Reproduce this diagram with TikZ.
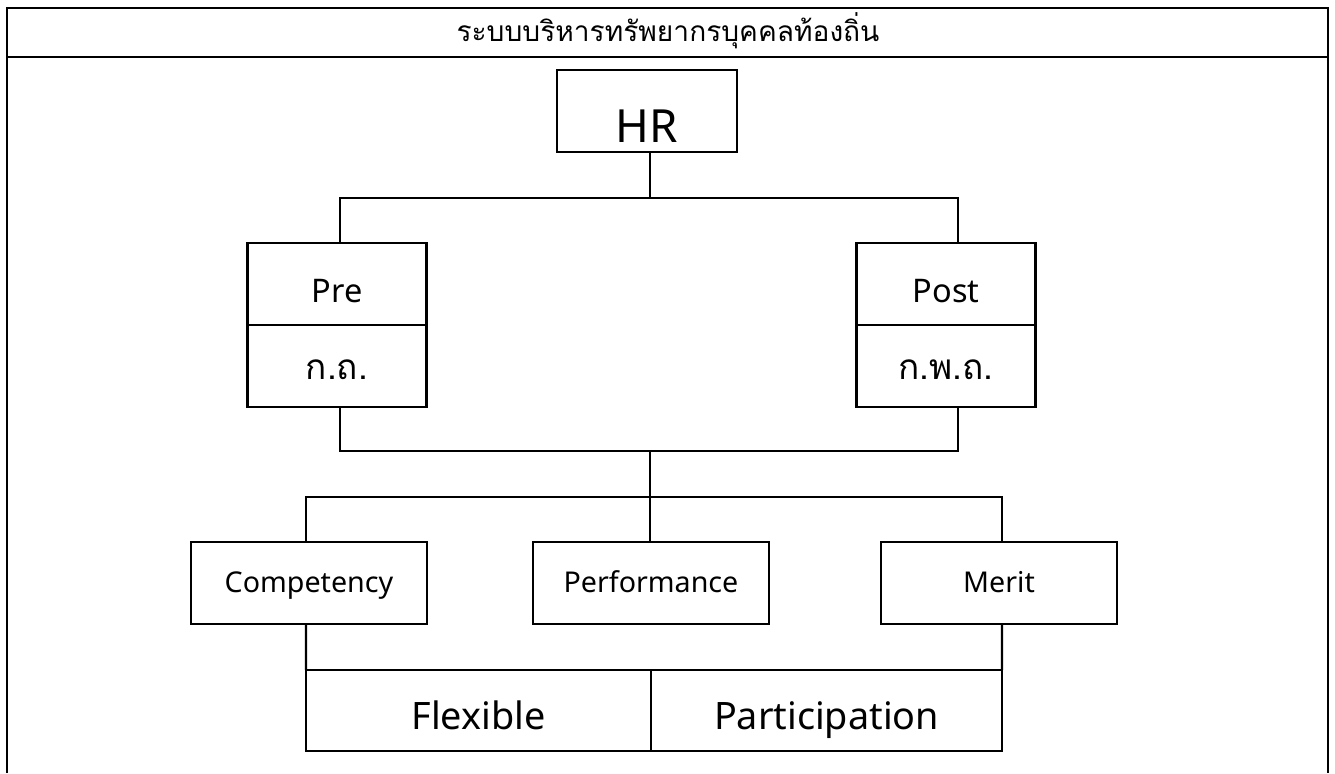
\documentclass[tikz,border=0pt]{standalone}
\usepackage{fontspec}
\setmainfont{Noto Sans}
\newfontfamily\thaifont[Script=Thai]{Loma}
\usepackage{tikz}
\tikzset{
boxnodev1/.style={rectangle, draw=black!100,fill=none,very thick, inner sep=0pt, outer sep=0pt, minimum width= 3.6cm, minimum height = 1.64cm, text height=35.3pt, text depth=0pt},
boxnodev2/.style={rectangle, draw=black!100,fill=none,very thick, inner sep=0pt, outer sep=0pt, minimum width= 3.58cm, minimum height = 1.64cm, text height=20.6pt, text depth=0pt, font=\fontsize{18.5}{20}\selectfont},
boxnodev3/.style={rectangle, draw=black!100,fill=none,very thick, inner sep=0pt, outer sep=0pt, minimum width= 4.72cm, minimum height = 1.64cm, text height=10.9pt, text depth=0pt, font=\fontsize{16.3}{18}\selectfont},
boxnodev4/.style={rectangle, draw=black!100,fill=none,very thick, inner sep=0pt, outer sep=0pt, minimum height = 1.62cm, text height=21.7pt, text depth=0pt, font=\fontsize{21.5}{24}\selectfont},
}

\begin{document}
\begin{tikzpicture}
        \useasboundingbox (0,0) rectangle (26.7,15.46);
        % frame and title
        \draw[very thick,black] (0.14,0)--(0.14,15.30)--(26.56,15.30)--(26.56,0);
        \draw[very thick,black] (0.14,14.32)--(26.56,14.32);
        \node at (13.36,14.84) (title) {\thaifont\fontsize{16}{18}\selectfont ระบบบริหารทรัพยากรบุคคลท้องถิ่น};

        \node[boxnodev1, font=\fontsize{26}{30}\selectfont] at (12.94,13.24) (hr) {HR};

        \node[boxnodev2] at (6.74,9.78) (pre) {Pre};
        \node[boxnodev2, text height=15.5pt, font=\thaifont\fontsize{20}{22}\selectfont] at (6.74,8.14) (pre2) {ก.ถ.};
        \node[boxnodev2] at (18.92,9.78) (post) {Post};
        \node[boxnodev2, text height=15.5pt, font=\thaifont\fontsize{20}{22}\selectfont] at (18.92,8.14) (post2) {ก.พ.ถ.};

        \coordinate (c1) at (6.8,11.5);
        \coordinate (c2) at (13.0,11.5);
        \coordinate (c3) at (19.16,11.5);
        \draw[very thick,black] (hr.south -| c2)--(c2);
        \draw[very thick,black] (pre.north -| c1)--(c1)--(c3)--(post.north -| c3);

        \coordinate (d1) at (6.8,6.44);
        \coordinate (d2) at (13.0,6.44);
        \coordinate (d3) at (19.16,6.44);
        \draw[very thick,black] (pre2.south -| d1)--(d1)--(d3)--(post2.south -| d3);

        \node[boxnodev3] at (6.18,3.80) (comp) {Competency};
        \node[boxnodev3] at (13.02,3.80) (perf) {Performance};
        \node[boxnodev3] at (19.98,3.80) (merit) {Merit};

        \coordinate (e1) at (6.12,5.52);
        \coordinate (e3) at (20.04,5.52);
        \draw[very thick,black] (d2)--(perf.north -| d2);
        \draw[very thick,black] (comp.north -| e1)--(e1)--(e3)--(merit.north -| e3);

        \node[boxnodev4, minimum width=6.9cm] at (9.57,1.25) (flex) {Flexible};
        \node[boxnodev4, minimum width=7.02cm] at (16.53,1.25) (part) {Participation};
        \draw[very thick,black] (comp.south -| e1)--(flex.north west);
        \draw[very thick,black] (merit.south -| e3)--(part.north east);
    \end{tikzpicture}
\end{document}
